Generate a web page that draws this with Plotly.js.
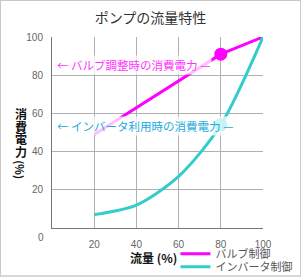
<!DOCTYPE html>
<html><head><meta charset="utf-8">
<script src="https://cdn.plot.ly/plotly-3.0.1.min.js"></script>
<style>
html,body{margin:0;padding:0;background:#fff;}
#wrap{position:relative;width:301px;height:277px;}
#chart{width:301px;height:277px;}
#frame{position:absolute;left:0;top:0;width:299px;height:274px;border:1px solid #c8c8c8;border-bottom:2px solid #d8d8d8;pointer-events:none;}
</style></head>
<body><div id="wrap"><div id="chart"></div><div id="frame"></div></div>
<script>
const flow = [20, 40, 60, 80, 100];
const valvePower = [49, 63, 77, 91, 100];
const inverterPower = [7, 12, 27, 54, 100];
const markFlow = [80];
const valveMark = [91];
const inverterMark = [54];
const tickVals = [20, 40, 60, 80, 100];
const seriesNames = ['バルブ制御', 'インバータ制御'];

const font = 'Liberation Sans, Arial, sans-serif';
const jp = '"Noto Sans CJK JP", sans-serif';

const traces = [
  {x: flow, y: valvePower, mode: 'lines', name: seriesNames[0], legend: 'legend', line: {color: '#ff00ff', width: 3}},
  {x: flow, y: inverterPower, mode: 'lines', name: seriesNames[1], legend: 'legend2', line: {color: '#33cccc', width: 3, shape: 'spline', smoothing: 0.8}},
  {x: markFlow, y: valveMark, mode: 'markers', showlegend: false, marker: {color: '#ff00ff', size: 13}},
  {x: markFlow, y: inverterMark, mode: 'markers', showlegend: false, marker: {color: '#33cccc', size: 13}}
];

const legendStyle = {xanchor: 'left', yanchor: 'top', bgcolor: 'rgba(0,0,0,0)',
  font: {family: jp, size: 11, color: '#555'}, itemwidth: 30};

const yTitleChars = ['消', '費', '電', '力'];
const yTitlePos = [0.599, 0.532, 0.466, 0.400];

const annotations = [
  {xref: 'paper', yref: 'paper', x: 0.012, y: 0.855, xanchor: 'left', yanchor: 'middle', showarrow: false,
   text: '← バルブ調整時の消費電力 —', font: {family: jp, size: 11.5, color: '#ff33ff'},
   bgcolor: 'rgba(255,255,255,0.75)'},
  {xref: 'paper', yref: 'paper', x: 0.012, y: 0.535, xanchor: 'left', yanchor: 'middle', showarrow: false,
   text: '← インバータ利用時の消費電力 —', font: {family: jp, size: 11.5, color: '#22aadd'},
   bgcolor: 'rgba(255,255,255,0.75)'},
  {xref: 'paper', yref: 'paper', x: -0.03, y: -0.05, xanchor: 'right', yanchor: 'middle', showarrow: false,
   text: '0', font: {family: font, size: 10, color: '#666'}},
  {xref: 'paper', yref: 'paper', x: 0.48, y: -0.155, xanchor: 'center', yanchor: 'middle', showarrow: false,
   text: '<b>流量 (%)</b>', font: {family: jp, size: 12, color: '#111'}},
  {xref: 'paper', yref: 'paper', x: -0.149, y: 0.305, xanchor: 'center', yanchor: 'middle', showarrow: false,
   textangle: 90, text: '<b>(%)</b>', font: {family: jp, size: 11, color: '#111'}}
];
yTitleChars.forEach((c, i) => annotations.push(
  {xref: 'paper', yref: 'paper', x: -0.149, y: yTitlePos[i], xanchor: 'center', yanchor: 'middle', showarrow: false,
   text: '<b>' + c + '</b>', font: {family: jp, size: 12, color: '#111'}}));

const layout = {
  width: 301, height: 277,
  margin: {l: 52, r: 38, t: 37, b: 49, autoexpand: false},
  paper_bgcolor: '#fff', plot_bgcolor: '#fff',
  font: {family: jp, color: '#555'},
  title: {text: 'ポンプの流量特性', x: 0.5, xanchor: 'center', y: 0.935, yanchor: 'middle',
          font: {family: jp, size: 14, color: '#333'}},
  xaxis: {range: [0, 100], tickvals: tickVals, ticktext: tickVals.map(String),
          showgrid: true, gridcolor: '#b0b0b0', gridwidth: 1, zeroline: false,
          showline: true, linecolor: '#777', linewidth: 1, ticks: '', ticklabelstandoff: 7,
          tickfont: {family: font, size: 10, color: '#666'}, fixedrange: true, automargin: false},
  yaxis: {range: [0, 100], tickvals: tickVals, ticktext: tickVals.map(String),
          showgrid: true, gridcolor: '#b0b0b0', gridwidth: 1, zeroline: false,
          showline: true, linecolor: '#777', linewidth: 1, ticks: '', ticklabelstandoff: 6,
          tickfont: {family: font, size: 10, color: '#666'}, fixedrange: true, automargin: false},
  showlegend: true,
  legend: Object.assign({x: 0.585, y: -0.059}, legendStyle),
  legend2: Object.assign({x: 0.585, y: -0.127}, legendStyle),
  annotations: annotations
};

Plotly.newPlot('chart', traces, layout, {staticPlot: true, displayModeBar: false});
</script></body></html>
